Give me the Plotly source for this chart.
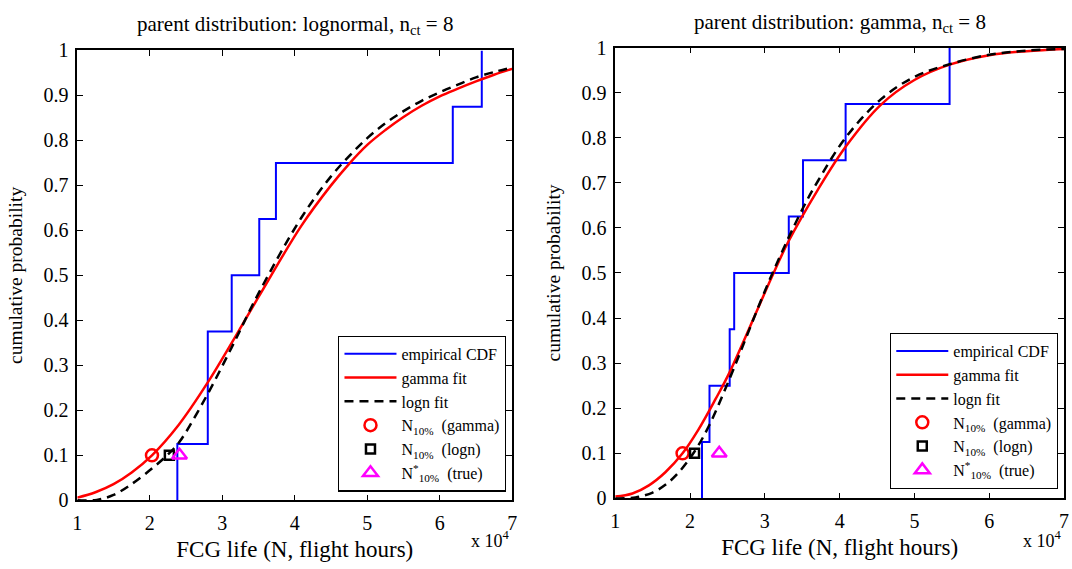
import plotly.graph_objects as go

# ---------------- data ----------------
# Left panel: parent distribution lognormal
L_ecdf_x = [2.38, 2.38, 2.80, 2.80, 3.13, 3.51, 3.74, 6.18, 6.58]
L_ecdf_y = [0.0, 0.125, 0.25, 0.375, 0.5, 0.625, 0.75, 0.875, 1.0]
L_gam_x = [1.0, 1.25, 1.5, 1.75, 2.03, 2.4, 2.8, 3.13, 3.5, 4.09, 4.5, 4.75, 5.0, 5.25, 5.5, 5.75, 6.0, 6.25, 6.5, 6.75, 7.0]
L_gam_y = [0.006, 0.018, 0.036, 0.062, 0.10, 0.168, 0.262, 0.35, 0.452, 0.61, 0.70, 0.748, 0.79, 0.823, 0.852, 0.877, 0.898, 0.915, 0.931, 0.946, 0.959]
L_logn_x = [1.0, 1.27, 1.5, 1.73, 2.04, 2.27, 2.41, 2.77, 3.13, 3.5, 4.09, 4.5, 4.75, 5.0, 5.25, 5.5, 5.75, 6.0, 6.25, 6.5, 6.75, 7.0]
L_logn_y = [0.0, 0.001, 0.012, 0.034, 0.072, 0.105, 0.13, 0.228, 0.34, 0.46, 0.628, 0.72, 0.765, 0.805, 0.838, 0.865, 0.888, 0.907, 0.924, 0.94, 0.952, 0.962]
L_n10 = {"gamma": (2.03, 0.1), "logn": (2.27, 0.1), "true": (2.41, 0.1)}

# Right panel: parent distribution gamma
R_ecdf_x = [2.16, 2.16, 2.26, 2.53, 2.59, 3.32, 3.51, 4.08, 5.47]
R_ecdf_y = [0.0, 0.125, 0.25, 0.375, 0.5, 0.625, 0.75, 0.875, 1.0]
R_gam_x = [1.0, 1.23, 1.45, 1.67, 1.9, 2.11, 2.34, 2.53, 3.09, 3.31, 3.71, 4.08, 4.55, 5.0, 5.47, 6.0, 6.5, 7.0]
R_gam_y = [0.004, 0.011, 0.029, 0.058, 0.10, 0.152, 0.22, 0.28, 0.49, 0.568, 0.685, 0.78, 0.873, 0.928, 0.962, 0.983, 0.992, 0.997]
R_logn_x = [1.0, 1.27, 1.5, 1.67, 1.85, 2.06, 2.25, 2.51, 3.09, 3.51, 3.71, 4.08, 4.55, 5.0, 5.47, 6.0, 6.5, 7.0]
R_logn_y = [0.0, 0.002, 0.013, 0.03, 0.058, 0.104, 0.16, 0.258, 0.495, 0.644, 0.704, 0.80, 0.885, 0.935, 0.963, 0.984, 0.993, 0.997]
R_n10 = {"gamma": (1.90, 0.1), "logn": (2.06, 0.1), "true": (2.39, 0.1)}

x_ticks = [1, 2, 3, 4, 5, 6, 7]
y_ticks = [0, 0.1, 0.2, 0.3, 0.4, 0.5, 0.6, 0.7, 0.8, 0.9, 1]
y_tick_text = ["0", "0.1", "0.2", "0.3", "0.4", "0.5", "0.6", "0.7", "0.8", "0.9", "1"]

FONT = "Liberation Serif, Times New Roman, serif"
fig = go.Figure()


def add_panel(ex, ey, gx, gy, lx, ly, n10, xa, ya, leg):
    fig.add_trace(go.Scatter(x=ex, y=ey, mode="lines", line=dict(color="#0000ff", width=2, shape="hv"),
                             name="empirical CDF", xaxis=xa, yaxis=ya, legend=leg))
    fig.add_trace(go.Scatter(x=gx, y=gy, mode="lines", line=dict(color="#ff0000", width=2.5, shape="spline", smoothing=1.0),
                             name="gamma fit", xaxis=xa, yaxis=ya, legend=leg))
    fig.add_trace(go.Scatter(x=lx, y=ly, mode="lines", line=dict(color="black", width=2.5, dash="9px,6px", shape="spline", smoothing=1.0),
                             name="logn fit", xaxis=xa, yaxis=ya, legend=leg))
    fig.add_trace(go.Scatter(x=[n10["gamma"][0]], y=[n10["gamma"][1]], mode="markers",
                             marker=dict(symbol="circle-open", color="#ff0000", size=12, line=dict(width=2.5)),
                             name="N<sub>10%</sub>  (gamma)", xaxis=xa, yaxis=ya, legend=leg))
    fig.add_trace(go.Scatter(x=[n10["logn"][0]], y=[n10["logn"][1]], mode="markers",
                             marker=dict(symbol="square-open", color="black", size=9, line=dict(width=2.5)),
                             name="N<sub>10%</sub>  (logn)", xaxis=xa, yaxis=ya, legend=leg))
    fig.add_trace(go.Scatter(x=[n10["true"][0]], y=[n10["true"][1]], mode="markers",
                             marker=dict(symbol="triangle-up-open", color="#ff00ff", size=13, line=dict(width=2.5)),
                             name="N<sup>*</sup><sub>10%</sub>  (true)", xaxis=xa, yaxis=ya, legend=leg))


add_panel(L_ecdf_x, L_ecdf_y, L_gam_x, L_gam_y, L_logn_x, L_logn_y, L_n10, "x", "y", "legend")
add_panel(R_ecdf_x, R_ecdf_y, R_gam_x, R_gam_y, R_logn_x, R_logn_y, R_n10, "x2", "y2", "legend2")

axis_common = dict(showline=True, linecolor="black", linewidth=1.5, mirror="ticks", ticks="inside",
                   ticklen=6, tickwidth=1, tickcolor="black", showgrid=False, zeroline=False,
                   tickfont=dict(family=FONT, size=20, color="black"))

xdom_L = [73 / 1072, 512 / 1072]
xdom_R = [616 / 1072, 1069 / 1072]
ydom_L = [1 - 509 / 569, 1 - 41 / 569]
ydom_R = [1 - 507 / 569, 1 - 38 / 569]

xtitle = dict(text="FCG life (N, flight hours)", font=dict(family=FONT, size=23, color="black"), standoff=8)
ytitle = dict(text="cumulative probability", font=dict(family=FONT, size=19.5, color="black"), standoff=16)

legend_common = dict(bgcolor="white", bordercolor="black", borderwidth=1.2,
                     font=dict(family=FONT, size=16, color="black"), itemwidth=52,
                     xanchor="right", yanchor="bottom", tracegroupgap=0)

fig.update_layout(
    width=1072, height=569,
    margin=dict(l=0, r=0, t=0, b=0),
    paper_bgcolor="white", plot_bgcolor="white",
    showlegend=True,
    xaxis=dict(domain=xdom_L, range=[1, 7], tickvals=x_ticks, title=xtitle, anchor="y",
               ticklabelstandoff=4, **axis_common),
    yaxis=dict(domain=ydom_L, range=[0, 1], tickvals=y_ticks, ticktext=y_tick_text, title=ytitle, anchor="x",
               ticklabelstandoff=3, **axis_common),
    xaxis2=dict(domain=xdom_R, range=[1, 7], tickvals=x_ticks, title=xtitle, anchor="y2",
                ticklabelstandoff=4, **axis_common),
    yaxis2=dict(domain=ydom_R, range=[0, 1], tickvals=y_ticks, ticktext=y_tick_text, title=ytitle, anchor="x2",
                ticklabelstandoff=3, **axis_common),
    legend=dict(x=506 / 1072, y=1 - 500 / 569, xref="paper", yref="paper", **legend_common),
    legend2=dict(x=1063 / 1072, y=1 - 497 / 569, xref="paper", yref="paper", **legend_common),
    annotations=[
        dict(text="parent distribution: lognormal, n<sub>ct</sub> = 8", x=(xdom_L[0] + xdom_L[1]) / 2, y=1 - 15 / 569,
             xref="paper", yref="paper", showarrow=False, xanchor="center", yanchor="middle",
             font=dict(family=FONT, size=21, color="black")),
        dict(text="parent distribution: gamma, n<sub>ct</sub> = 8", x=(xdom_R[0] + xdom_R[1]) / 2, y=1 - 13 / 569,
             xref="paper", yref="paper", showarrow=False, xanchor="center", yanchor="middle",
             font=dict(family=FONT, size=21, color="black")),
        dict(text="x 10<sup>4</sup>", x=512 / 1072, y=1 - 536 / 569, xref="paper", yref="paper", showarrow=False,
             xanchor="right", yanchor="top", font=dict(family=FONT, size=18, color="black")),
        dict(text="x 10<sup>4</sup>", x=1069 / 1072, y=1 - 536 / 569, xref="paper", yref="paper", showarrow=False,
             xanchor="right", yanchor="top", font=dict(family=FONT, size=18, color="black")),
    ],
)

fig.write_html("out.html")
